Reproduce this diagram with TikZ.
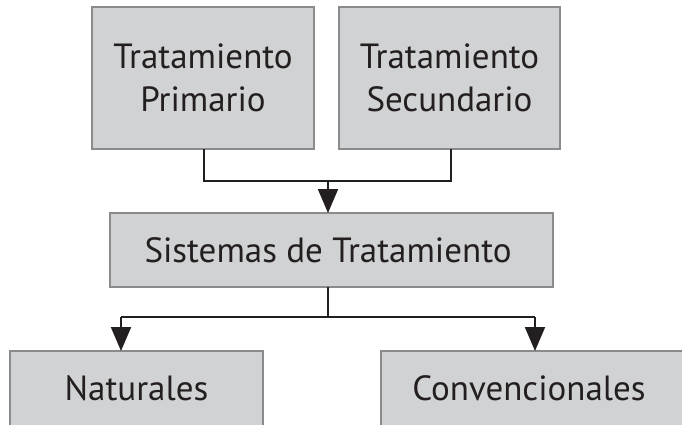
\documentclass[tikz,border=0pt]{standalone}
\usepackage{fontspec}
\setmainfont{PT Sans}
\usetikzlibrary{arrows.meta}
\definecolor{boxfill}{HTML}{D1D2D4}
\definecolor{boxline}{HTML}{8A8B8D}
\definecolor{txt}{HTML}{231F20}
\tikzset{
  box/.style={draw=boxline, fill=boxfill, line width=2.5pt, inner sep=0pt},
  lbl/.style={text=txt, font=\fontsize{35}{43}\selectfont, align=center},
  conn/.style={draw=txt, line width=2pt},
  arr/.style={conn, -{Triangle[length=24pt,width=20pt]}}
}
\begin{document}
\begin{tikzpicture}[x=1pt,y=-1pt]
\useasboundingbox (0,0) rectangle (682,424);
\clip (0,0) rectangle (682,424);
% boxes
\path[box] (92,7) rectangle (314,149);
\path[box] (339,7) rectangle (560,149);
\path[box] (110,213) rectangle (553,287);
\path[box] (10,351) rectangle (263,440);
\path[box] (381,351) rectangle (700,440);
\node[lbl] (p) at (203,78) {Tratamiento\\Primario};
\node[lbl] (s) at (449.5,78) {Tratamiento\\Secundario};
\node[lbl] (st) at (328,250) {Sistemas de Tratamiento};
\node[lbl] (n) at (136.5,388) {Naturales};
\node[lbl] (c) at (529,388) {Convencionales};
\coordinate (pb) at (204,149);
\coordinate (sb) at (451,149);
\coordinate (j1) at (328,181);
\coordinate (st_t) at (328,213);
\coordinate (st_b) at (328,287);
\coordinate (j2) at (328,317);
\coordinate (n_t) at (121,351);
\coordinate (c_t) at (535,351);
\draw[conn] (pb) |- (sb |- j1) -- (sb);
\draw[arr] (j1) -- (st_t);
\draw[conn] (st_b) -- (j2);
\draw[arr] (n_t |- j2) -- (n_t);
\draw[arr] (c_t |- j2) -- (c_t);
\draw[conn] (n_t |- j2) -- (c_t |- j2);
\end{tikzpicture}
\end{document}
